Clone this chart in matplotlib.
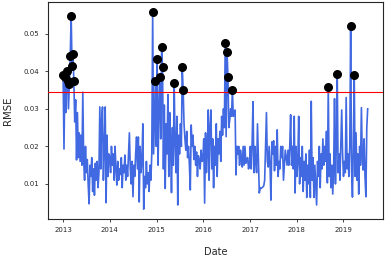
import matplotlib
matplotlib.use("Agg")
import matplotlib.pyplot as plt
import matplotlib.dates as mdates
import numpy as np
import pandas as pd

# Weekly RMSE values
rmse_2013 = [0.0391, 0.0193, 0.0385, 0.0290, 0.0401, 0.0373, 0.0300, 0.0365, 0.0441, 0.0548,
             0.0413, 0.0447, 0.0374, 0.0265, 0.0324, 0.0164, 0.0290, 0.0170, 0.0236, 0.0160,
             0.0230, 0.0150, 0.0344, 0.0160, 0.0110, 0.0200, 0.0130, 0.0165, 0.0100, 0.0047,
             0.0150, 0.0120, 0.0170, 0.0080, 0.0140, 0.0070, 0.0155, 0.0110, 0.0160, 0.0090,
             0.0130, 0.0305, 0.0140, 0.0270, 0.0305, 0.0110, 0.0200, 0.0305, 0.0050, 0.0230,
             0.0120, 0.0180]
rmse_2014 = [0.0172, 0.0130, 0.0200, 0.0150, 0.0180, 0.0110, 0.0200, 0.0140, 0.0097, 0.0160,
             0.0110, 0.0140, 0.0125, 0.0170, 0.0090, 0.0150, 0.0130, 0.0177, 0.0110, 0.0150,
             0.0120, 0.0180, 0.0236, 0.0140, 0.0100, 0.0160, 0.0066, 0.0150, 0.0120, 0.0180,
             0.0225, 0.0140, 0.0225, 0.0052, 0.0200, 0.0130, 0.0160, 0.0260, 0.0033, 0.0120,
             0.0090, 0.0160, 0.0100, 0.0130, 0.0080, 0.0150, 0.0110, 0.0180, 0.0558, 0.0180,
             0.0280, 0.0374]
rmse_2015 = [0.0200, 0.0433, 0.0150, 0.0300, 0.0385, 0.0220, 0.0464, 0.0411, 0.0140, 0.0310,
             0.0088, 0.0260, 0.0180, 0.0338, 0.0120, 0.0290, 0.0200, 0.0077, 0.0250, 0.0150,
             0.0369, 0.0210, 0.0130, 0.0280, 0.0044, 0.0230, 0.0180, 0.0260, 0.0200, 0.0411,
             0.0351, 0.0260, 0.0220, 0.0190, 0.0240, 0.0170, 0.0200, 0.0150, 0.0084, 0.0257,
             0.0200, 0.0230, 0.0165, 0.0200, 0.0150, 0.0185, 0.0120, 0.0175, 0.0160, 0.0140,
             0.0190, 0.0160]
rmse_2016 = [0.0164, 0.0220, 0.0049, 0.0236, 0.0130, 0.0180, 0.0297, 0.0110, 0.0250, 0.0297,
             0.0140, 0.0220, 0.0090, 0.0200, 0.0150, 0.0260, 0.0120, 0.0220, 0.0180, 0.0240,
             0.0160, 0.0280, 0.0230, 0.0300, 0.0250, 0.0475, 0.0226, 0.0451, 0.0385, 0.0250,
             0.0270, 0.0300, 0.0280, 0.0351, 0.0280, 0.0290, 0.0297, 0.0124, 0.0200, 0.0180,
             0.0200, 0.0150, 0.0190, 0.0170, 0.0145, 0.0200, 0.0150, 0.0200, 0.0155, 0.0165,
             0.0170, 0.0140]
rmse_2017 = [0.0150, 0.0200, 0.0140, 0.0210, 0.0319, 0.0130, 0.0200, 0.0160, 0.0130, 0.0260,
             0.0170, 0.0076, 0.0090, 0.0088, 0.0090, 0.0092, 0.0095, 0.0110, 0.0200, 0.0290,
             0.0160, 0.0145, 0.0200, 0.0150, 0.0057, 0.0212, 0.0180, 0.0215, 0.0135, 0.0200,
             0.0150, 0.0244, 0.0120, 0.0160, 0.0140, 0.0200, 0.0170, 0.0200, 0.0110, 0.0150,
             0.0190, 0.0170, 0.0150, 0.0190, 0.0150, 0.0200, 0.0284, 0.0150, 0.0200, 0.0140,
             0.0280, 0.0076]
rmse_2018 = [0.0200, 0.0120, 0.0160, 0.0280, 0.0100, 0.0170, 0.0120, 0.0200, 0.0080, 0.0160,
             0.0110, 0.0180, 0.0064, 0.0150, 0.0100, 0.0190, 0.0064, 0.0320, 0.0110, 0.0170,
             0.0064, 0.0150, 0.0100, 0.0044, 0.0160, 0.0120, 0.0200, 0.0090, 0.0180, 0.0140,
             0.0220, 0.0150, 0.0200, 0.0160, 0.0240, 0.0103, 0.0358, 0.0120, 0.0180, 0.0090,
             0.0150, 0.0073, 0.0140, 0.0327, 0.0100, 0.0200, 0.0393, 0.0130, 0.0180, 0.0110,
             0.0200, 0.0297]
rmse_2019 = [0.0180, 0.0120, 0.0160, 0.0130, 0.0330, 0.0140, 0.0180, 0.0120, 0.0200, 0.0520,
             0.0140, 0.0065, 0.0200, 0.0390, 0.0120, 0.0236, 0.0110, 0.0180, 0.0073, 0.0200,
             0.0150, 0.0303, 0.0170, 0.0137, 0.0220, 0.0120, 0.0066, 0.0250, 0.0300]

threshold = 0.0345
start_date = "2013-01-01"

rmse = np.array(rmse_2013 + rmse_2014 + rmse_2015 + rmse_2016 +
                rmse_2017 + rmse_2018 + rmse_2019)
dates = pd.date_range(start_date, periods=len(rmse), freq="7D")
anom = rmse > threshold

fig = plt.figure(figsize=(3.86, 2.57), dpi=100)
ax = fig.add_axes([0.124, 0.148, 0.868, 0.844])

ax.plot(dates, rmse, color="#4169E1", lw=1.2, zorder=2)
ax.axhline(threshold, color="red", lw=0.8, zorder=3)
ax.scatter(dates[anom], rmse[anom], color="black", s=30, zorder=4)

ax.xaxis.set_major_locator(mdates.YearLocator())
ax.xaxis.set_major_formatter(mdates.DateFormatter("%Y"))
ax.set_yticks([0.01, 0.02, 0.03, 0.04, 0.05])

ax.tick_params(labelsize=5, colors="#262626", length=2.5, width=0.6)
for s in ax.spines.values():
    s.set_linewidth(0.8)
    s.set_color("#262626")

ax.set_xlabel("Date", fontsize=7, labelpad=10, color="#262626")
ax.set_ylabel("RMSE", fontsize=7.3, labelpad=8, color="#262626")

fig.savefig("out.png", dpi=100)
